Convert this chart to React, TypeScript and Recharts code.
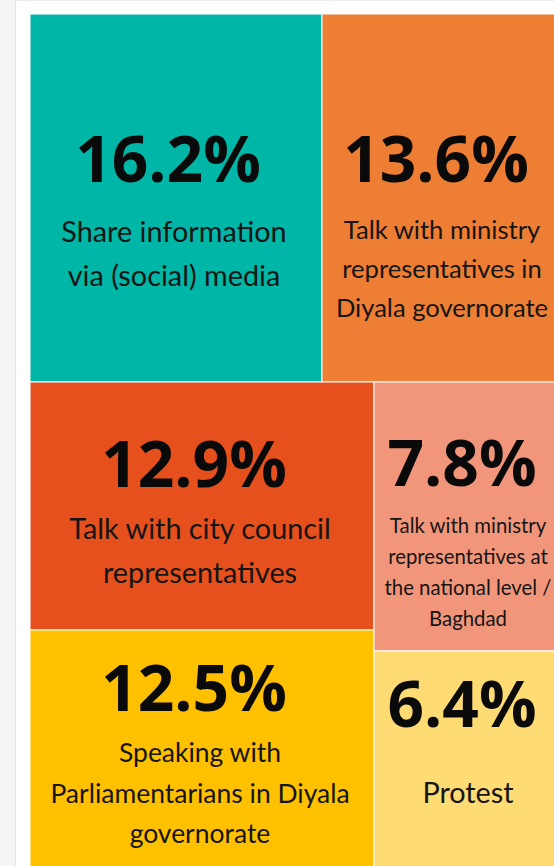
import React from 'react';
import { Treemap } from 'recharts';

// ---- data ----
const categories: string[] = [
  'Share information\nvia (social) media',
  'Talk with ministry\nrepresentatives in\nDiyala governorate',
  'Talk with city council\nrepresentatives',
  'Speaking with\nParliamentarians in Diyala\ngovernorate',
  'Talk with ministry\nrepresentatives at\nthe national level /\nBaghdad',
  'Protest',
];
const shares: number[] = [16.2, 13.6, 12.9, 12.5, 7.8, 6.4];

// ---- styles ----
const colors: string[] = ['#00B6A6', '#ED7E34', '#E5501D', '#FFC000', '#F1967A', '#FFDB74'];
const LABEL_FONT = 'Lato, "Noto Sans", sans-serif';
const NUM_FONT = '"Open Sans", sans-serif';
const NUM_SIZE = 64;
const MAX_LABEL = 28.8;

const data = categories.map((name, i) => ({ name, value: shares[i] }));

let ctx: CanvasRenderingContext2D | null = null;
function measure(text: string, font: string): number {
  if (!ctx) ctx = document.createElement('canvas').getContext('2d');
  if (!ctx) return text.length * 10;
  ctx.font = font;
  return ctx.measureText(text).width;
}

function CellContent(props: any) {
  const { x, y, width, height, depth, index, name, value } = props;
  if (depth !== 1) return <g />;
  const lines: string[] = String(name).split('\n');
  const avail = Math.min(width - 24, 0.87 * width);
  const wMax = Math.max(...lines.map((l) => measure(l, `${MAX_LABEL}px ${LABEL_FONT}`)));
  const f = Math.min(MAX_LABEL, (MAX_LABEL * avail) / wMax);
  const lh = f * 1.52;
  const n = lines.length;
  let capTop: number;
  if (height > 300) {
    capTop = y + 0.5625 * height;
  } else {
    const c = y + height - 79;
    const b1c = c + 0.36 * f - ((n - 1) * lh) / 2;
    capTop = b1c - 0.72 * f;
  }
  const b1 = capTop + 0.72 * f;
  const gap = n === 1 ? 78 : height > 300 ? 62 : 55;
  const numCenter = capTop - gap;
  const numBase = numCenter + 0.357 * NUM_SIZE;
  const cx = x + width / 2;
  return (
    <g>
      <rect
        x={x}
        y={y}
        width={width}
        height={height}
        fill={colors[index % colors.length]}
        stroke="#ffffff"
        strokeOpacity={0.7}
        strokeWidth={1.5}
      />
      <text
        x={cx - 8}
        y={numBase}
        textAnchor="middle"
        fontFamily={NUM_FONT}
        fontWeight={700}
        fontSize={NUM_SIZE}
        fill="#0a0a0a"
      >
        {`${Number(value).toFixed(1)}%`}
      </text>
      {lines.map((l, i) => (
        <text
          key={i}
          x={cx - 2}
          y={b1 + i * lh}
          textAnchor="middle"
          fontFamily={LABEL_FONT}
          fontSize={f}
          fill="#151515"
        >
          {l}
        </text>
      ))}
    </g>
  );
}

export default function App() {
  return (
    <div
      style={{
        position: 'absolute',
        left: 0,
        top: 0,
        width: 554,
        height: 866,
        overflow: 'hidden',
        background: '#f5f5f5',
      }}
    >
      <div
        style={{
          position: 'absolute',
          left: 15,
          top: 0,
          width: 600,
          height: 1000,
          background: '#ffffff',
          borderLeft: '1px solid #e4e4e4',
          borderTop: '1px solid #ececec',
        }}
      />
      <div style={{ position: 'absolute', left: 30, top: 14 }}>
        <Treemap
          width={536}
          height={858}
          data={data}
          dataKey="value"
          nameKey="name"
          isAnimationActive={false}
          content={(p: any) => <CellContent {...p} />}
        />
      </div>
    </div>
  );
}
